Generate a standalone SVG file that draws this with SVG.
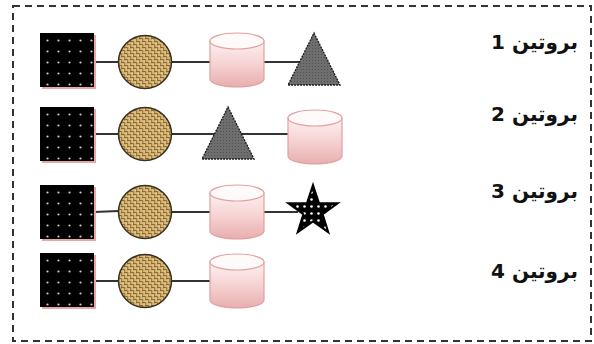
<svg xmlns="http://www.w3.org/2000/svg" width="594" height="344" viewBox="0 0 594 344">
<defs>
<pattern id="dots" width="11" height="11" patternUnits="userSpaceOnUse" x="2" y="2">
<rect width="11" height="11" fill="#000"/>
<circle cx="5.5" cy="5.5" r="1.1" fill="#cfcfcf"/>
</pattern>
<pattern id="weave" width="6" height="6" patternUnits="userSpaceOnUse">
<rect width="6" height="6" fill="#d8b878"/>
<rect x="0" y="0" width="3" height="1.2" fill="#8a6a30"/>
<rect x="3" y="3" width="3" height="1.2" fill="#8a6a30"/>
<rect x="0" y="3" width="1.2" height="3" fill="#a07c40"/>
<rect x="3" y="0" width="1.2" height="3" fill="#a07c40"/>
<rect x="1.5" y="1.5" width="1.2" height="1.2" fill="#f0dca8"/>
<rect x="4.5" y="4.5" width="1.2" height="1.2" fill="#f0dca8"/>
</pattern>
<pattern id="grey" width="3" height="3" patternUnits="userSpaceOnUse">
<rect width="3" height="3" fill="#6e6e6e"/>
<rect width="1" height="1" fill="#505050"/>
</pattern>
<pattern id="stardots" width="7" height="7" patternUnits="userSpaceOnUse">
<rect width="7" height="7" fill="#000"/>
<circle cx="3.5" cy="3.5" r="1.3" fill="#fff"/>
</pattern>
<linearGradient id="cyl" x1="0" y1="0" x2="0" y2="1">
<stop offset="0" stop-color="#fdf1f1"/>
<stop offset="0.5" stop-color="#f6d2d2"/>
<stop offset="1" stop-color="#e8aeae"/>
</linearGradient>
<g id="sq">
<rect x="2" y="2" width="54" height="54" fill="#e8a6a6"/>
<rect x="0" y="0" width="54" height="54" fill="url(#dots)"/>
</g>
<g id="circ">
<circle cx="0" cy="0" r="26.5" fill="url(#weave)" stroke="#3a3020" stroke-width="1.5"/>
</g>
<g id="cyl1">
<path d="M0,8 L0,46 A27,8 0 0 0 54,46 L54,8 Z" fill="url(#cyl)" stroke="#e2a0a0" stroke-width="1.2"/>
<ellipse cx="27" cy="8" rx="27" ry="8" fill="#fffafa" stroke="#e2a0a0" stroke-width="1.2"/>
</g>
<g id="tri">
<polygon points="26,0 52,52 0,52" fill="url(#grey)" stroke="#1a1a1a" stroke-width="1.3" stroke-dasharray="2 1"/>
</g>
</defs>
<style>
.frame{fill:none;stroke:#333;stroke-width:2;stroke-dasharray:7 5}
.conn line{stroke:#333;stroke-width:2}
.lbl{font-family:"DejaVu Sans",sans-serif;font-weight:bold;font-size:20px;fill:#111}
</style>
<rect class="frame" x="13" y="6" width="578" height="335"/>
<g class="conn" id="connectors">
<line x1="94" y1="62" x2="119" y2="62"/>
<line x1="172" y1="62" x2="210" y2="62"/>
<line x1="263" y1="62" x2="301" y2="62"/>
<line x1="94" y1="134" x2="119" y2="134"/>
<line x1="172" y1="134" x2="215" y2="134"/>
<line x1="241" y1="134" x2="288" y2="134"/>
<line x1="94" y1="212" x2="119" y2="211"/>
<line x1="172" y1="212" x2="210" y2="212"/>
<line x1="264" y1="212" x2="298" y2="212"/>
<line x1="94" y1="281" x2="119" y2="281"/>
<line x1="172" y1="281" x2="210" y2="281"/>
</g>
<g id="row1">
<use href="#sq" x="40" y="33"/>
<use href="#circ" x="145" y="62"/>
<use href="#cyl1" x="210" y="33"/>
<use href="#tri" x="288" y="33"/>
</g>
<g id="row2">
<use href="#sq" x="40" y="107"/>
<use href="#circ" x="145" y="134"/>
<use href="#tri" x="202" y="107"/>
<use href="#cyl1" x="288" y="110"/>
</g>
<g id="row3">
<use href="#sq" x="40" y="185"/>
<use href="#circ" x="145" y="212"/>
<use href="#cyl1" x="210" y="185"/>
<g id="star">
<polygon points="313,185 318.9,202.9 337.8,203.1 322.7,214.3 328.3,232.3 313,221.4 297.7,232.3 303.3,214.3 288.2,203.1 307.1,202.9" fill="url(#stardots)" stroke="#000" stroke-width="2"/>
</g>
</g>
<g id="row4">
<use href="#sq" x="40" y="253"/>
<use href="#circ" x="145" y="281"/>
<use href="#cyl1" x="210" y="254"/>
</g>
<g id="labels">
<text class="lbl" x="578" y="49" direction="rtl">بروتين 1</text>
<text class="lbl" x="578" y="121" direction="rtl">بروتين 2</text>
<text class="lbl" x="578" y="198" direction="rtl">بروتين 3</text>
<text class="lbl" x="578" y="278" direction="rtl">بروتين 4</text>
</g>
</svg>
